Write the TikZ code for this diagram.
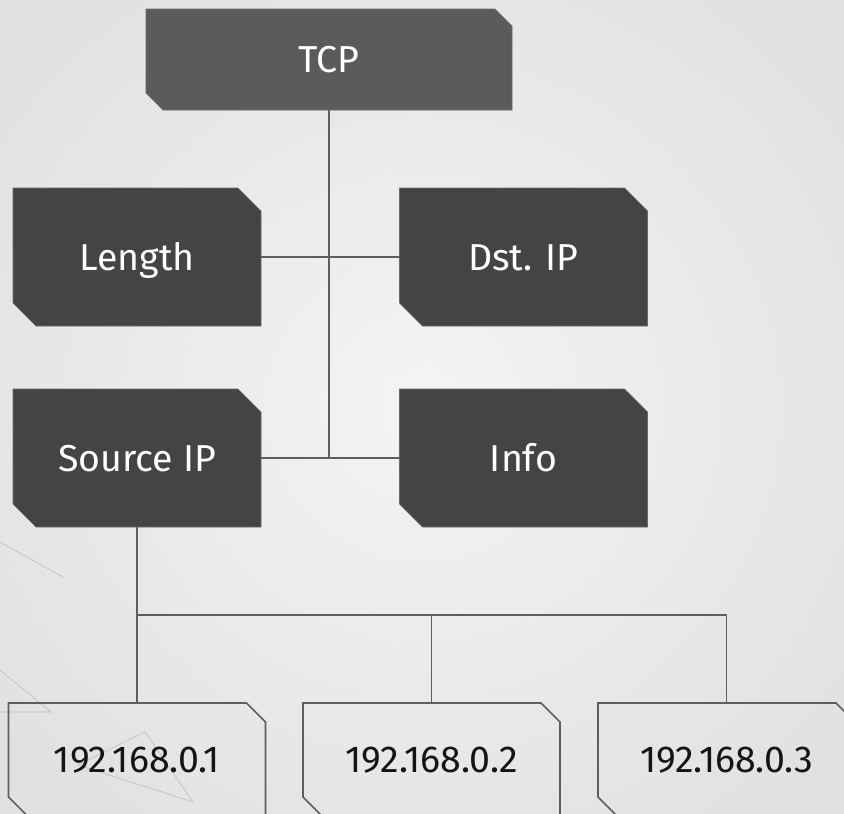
\documentclass[tikz,border=0pt]{standalone}
\usepackage{fontspec}
\setmainfont{Fira Sans}
\usetikzlibrary{calc}
\definecolor{bgin}{HTML}{F4F4F4}
\definecolor{bgout}{HTML}{E1E1E1}
\definecolor{topfill}{HTML}{5B5B5B}
\definecolor{boxfill}{HTML}{444444}
\definecolor{boxedge}{HTML}{6A6A6A}
\definecolor{wire}{HTML}{5E5E5E}
\definecolor{deco}{HTML}{BDBDBD}
\pgfdeclarelayer{bg}
\pgfsetlayers{bg,main}
\tikzset{
  label box/.style={outer sep=0pt, inner sep=0pt, text depth=0pt, align=center,
    font=\fontsize{37.5}{42}\selectfont, text height=26pt},
  headbox/.style={label box, minimum width=366pt, minimum height=101pt, text=white},
  fieldbox/.style={label box, minimum width=248pt, minimum height=138pt, text=white},
  addrbox/.style={label box, minimum width=257pt, minimum height=113pt, text=black!92},
  conn/.style={draw=wire, line width=2pt},
  thinconn/.style={draw=wire, line width=1.6pt},
  decoline/.style={draw=deco, line width=0.6pt},
}
\begin{document}
\begin{tikzpicture}[x=1pt, y=1pt]
  \useasboundingbox (0,0) rectangle (844,-814);
  \clip (0,0) rectangle (844,-814);

  % header and field boxes
  \node[headbox]  (tcp)  at (329,-59.5)  {TCP};
  \node[fieldbox] (len)  at (137,-257)   {Length};
  \node[fieldbox] (dst)  at (523.5,-257) {Dst. IP};
  \node[fieldbox] (src)  at (137,-458)   {Source IP};
  \node[fieldbox] (info) at (523.5,-458) {Info};

  % address boxes
  \node[addrbox] (ip1) at (137,-759.5)   {192.168.0.1};
  \node[addrbox] (ip2) at (431.5,-759.5) {192.168.0.2};
  \node[addrbox] (ip3) at (726.5,-759.5) {192.168.0.3};

  \begin{pgfonlayer}{bg}
    % soft backdrop
    \shade[inner color=bgin, outer color=bgout] (-120,120) rectangle (964,-934);

    % faint decorative strokes
    \draw[decoline] (0,-542) -- (63,-577);
    \draw[decoline] (0,-670) -- (51,-712) -- (0,-712);
    \draw[decoline] (145,-732) -- (193,-802) -- (78,-765) -- cycle;

    % chamfered outlines: top-right and bottom-left corners cut
    \foreach \n/\c/\col in {tcp/17/topfill, len/23/boxfill, dst/23/boxfill,
                             src/23/boxfill, info/23/boxfill} {
      \filldraw[fill=\col, draw=boxedge, line width=0.6pt]
        (\n.north west) -- ([xshift=-\c pt]\n.north east)
        -- ([yshift=-\c pt]\n.north east) -- (\n.south east)
        -- ([xshift=\c pt]\n.south west) -- ([yshift=\c pt]\n.south west) -- cycle;
    }
    \foreach \n in {ip1, ip2, ip3} {
      \draw[draw=wire, line width=1.6pt, line join=miter]
        (\n.north west) -- ([xshift=-19pt]\n.north east)
        -- ([yshift=-19pt]\n.north east) -- (\n.south east)
        -- ([xshift=19pt]\n.south west) -- ([yshift=19pt]\n.south west) -- cycle;
    }
  \end{pgfonlayer}

  % trunk from the header down through the field rows
  \coordinate (trunkend) at (tcp.south |- src.east);
  \draw[conn] (tcp.south) -- (trunkend);
  \draw[conn] (len.east) -- (dst.west);
  \draw[conn] (src.east) -- (info.west);

  % bus from Source IP to the addresses
  \coordinate (bus) at (0,-615);
  \draw[thinconn] (src.south) -- (ip1.north);
  \draw[thinconn] (ip1.north |- bus) -| (ip3.north);
  \draw[thinconn] (ip2.north |- bus) -- (ip2.north);
\end{tikzpicture}
\end{document}
